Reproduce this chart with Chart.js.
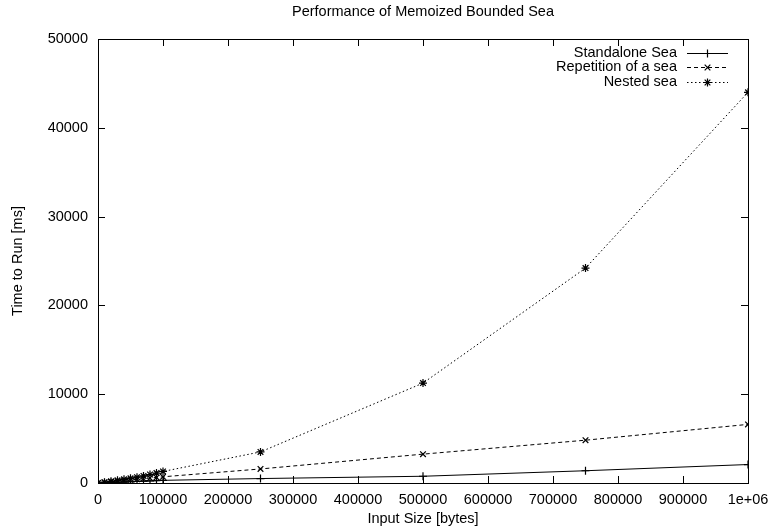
<!DOCTYPE html>
<html>
<head>
<meta charset="utf-8">
<script src="https://cdn.jsdelivr.net/npm/chart.js@4.4.0/dist/chart.umd.min.js"></script>
<style>
html,body{margin:0;padding:0;background:#fff;}
#wrap{width:771px;height:529px;}
</style>
</head>
<body>
<div id="wrap"><canvas id="c" width="771" height="529"></canvas></div>
<script>
// ---- data ----
const inputSizes = [0, 10000, 20000, 30000, 40000, 50000, 60000, 70000, 80000, 90000, 100000, 250000, 500000, 750000, 1000000];
const standaloneSea = [0, 25, 55, 85, 110, 140, 170, 200, 230, 265, 300, 500, 760, 1380, 2080];
const repetitionSea = [0, 60, 130, 200, 270, 340, 410, 480, 560, 630, 700, 1580, 3250, 4820, 6600];
const nestedSea = [0, 90, 190, 300, 410, 530, 660, 800, 960, 1120, 1300, 3500, 11250, 24200, 44000];
const seriesNames = ['Standalone Sea', 'Repetition of a sea', 'Nested sea'];
const xTicks = [0, 100000, 200000, 300000, 400000, 500000, 600000, 700000, 800000, 900000, 1000000];
const xTickLabels = ['0', '100000', '200000', '300000', '400000', '500000', '600000', '700000', '800000', '900000', '1e+06'];
const yTicks = [0, 10000, 20000, 30000, 40000, 50000];
const yTickLabels = ['0', '10000', '20000', '30000', '40000', '50000'];
const chartTitle = 'Performance of Memoized Bounded Sea';
const xTitle = 'Input Size [bytes]';
const yTitle = 'Time to Run [ms]';

const FONT = '"Liberation Sans", Arial, Helvetica, sans-serif';
const FS = 14.5;

function toPoints(vals) { return inputSizes.map((x, i) => ({ x: x, y: vals[i] })); }

const styles = [
  { pointStyle: 'cross', borderDash: [] },
  { pointStyle: 'crossRot', borderDash: [4, 3] },
  { pointStyle: 'star', borderDash: [1.5, 2.5] }
];
const seriesValues = [standaloneSea, repetitionSea, nestedSea];

const datasets = seriesValues.map((vals, i) => ({
  label: seriesNames[i],
  data: toPoints(vals),
  borderColor: '#000',
  backgroundColor: '#000',
  borderWidth: 1,
  borderDash: styles[i].borderDash,
  pointStyle: styles[i].pointStyle,
  pointRadius: 4,
  pointBorderWidth: 1.2,
  pointBorderColor: '#000',
  pointHoverRadius: 4,
  fill: false,
  tension: 0
}));

function drawMarker(ctx, style, x, y, r) {
  ctx.beginPath();
  if (style === 'cross' || style === 'star') {
    ctx.moveTo(x - r, y); ctx.lineTo(x + r, y);
    ctx.moveTo(x, y - r); ctx.lineTo(x, y + r);
  }
  if (style === 'crossRot' || style === 'star') {
    const d = r * Math.SQRT1_2;
    ctx.moveTo(x - d, y - d); ctx.lineTo(x + d, y + d);
    ctx.moveTo(x - d, y + d); ctx.lineTo(x + d, y - d);
  }
  ctx.stroke();
}

const gnuplotFrame = {
  id: 'gnuplotFrame',
  afterDatasetsDraw(chart) {
    const ctx = chart.ctx;
    const a = chart.chartArea;
    const xs = chart.scales.x, ys = chart.scales.y;
    const T = 7;
    ctx.save();
    ctx.strokeStyle = '#000';
    ctx.lineWidth = 1;
    ctx.setLineDash([]);
    ctx.beginPath();
    xTicks.forEach(v => {
      const px = Math.round(xs.getPixelForValue(v)) + 0.5;
      ctx.moveTo(px, a.bottom); ctx.lineTo(px, a.bottom - T);
      ctx.moveTo(px, a.top); ctx.lineTo(px, a.top + T);
    });
    yTicks.forEach(v => {
      const py = Math.round(ys.getPixelForValue(v)) + 0.5;
      ctx.moveTo(a.left, py); ctx.lineTo(a.left + T, py);
      ctx.moveTo(a.right, py); ctx.lineTo(a.right - T, py);
    });
    ctx.stroke();
    ctx.strokeRect(Math.round(a.left) + 0.5, Math.round(a.top) + 0.5, Math.round(a.right - a.left), Math.round(a.bottom - a.top));
    ctx.restore();
  },
  afterDraw(chart) {
    const ctx = chart.ctx;
    const a = chart.chartArea;
    ctx.save();
    ctx.font = FS + 'px ' + FONT;
    ctx.fillStyle = '#000';
    ctx.strokeStyle = '#000';
    ctx.lineWidth = 1;
    // title centred over the plot area (gnuplot style)
    ctx.textAlign = 'center';
    ctx.textBaseline = 'middle';
    ctx.fillText(chartTitle, (a.left + a.right) / 2, 12);
    // legend inside top-right
    ctx.textAlign = 'right';
    const textRight = a.right - 71;
    const lineL = a.right - 61, lineR = a.right - 20;
    chart.data.datasets.forEach((ds, i) => {
      const y = a.top + 13.5 + i * 14.5;
      ctx.fillText(ds.label, textRight, y);
      ctx.setLineDash(ds.borderDash || []);
      ctx.beginPath();
      ctx.moveTo(lineL, Math.round(y) + 0.5);
      ctx.lineTo(lineR, Math.round(y) + 0.5);
      ctx.stroke();
      ctx.setLineDash([]);
      ctx.lineWidth = 1.2;
      drawMarker(ctx, ds.pointStyle, (lineL + lineR) / 2, Math.round(y) + 0.5, 4);
      ctx.lineWidth = 1;
    });
    ctx.restore();
  }
};

new Chart(document.getElementById('c'), {
  type: 'line',
  data: { datasets: datasets },
  plugins: [gnuplotFrame],
  options: {
    responsive: false,
    animation: false,
    devicePixelRatio: 1,
    layout: { padding: { left: 0, right: 23, top: 39, bottom: 0 } },
    plugins: {
      legend: { display: false },
      tooltip: { enabled: false },
      title: { display: false }
    },
    scales: {
      x: {
        type: 'linear',
        min: 0,
        max: 1000000,
        afterBuildTicks: s => { s.ticks = xTicks.map(v => ({ value: v })); },
        afterFit: s => { s.height = 46; s.paddingLeft = 0; s.paddingRight = 0; },
        ticks: {
          color: '#000',
          font: { family: FONT, size: FS },
          padding: 8,
          maxRotation: 0,
          autoSkip: false,
          callback: v => { const i = xTicks.indexOf(v); return i >= 0 ? xTickLabels[i] : ''; }
        },
        grid: { display: false, drawTicks: false },
        border: { display: false },
        title: { display: true, text: xTitle, color: '#000', font: { family: FONT, size: FS }, padding: { top: 2, bottom: 1 } }
      },
      y: {
        type: 'linear',
        min: 0,
        max: 50000,
        afterBuildTicks: s => { s.ticks = yTicks.map(v => ({ value: v })); },
        afterFit: s => { s.width = 98; s.paddingTop = 0; s.paddingBottom = 0; },
        ticks: {
          color: '#000',
          font: { family: FONT, size: FS },
          padding: 10,
          autoSkip: false,
          callback: v => { const i = yTicks.indexOf(v); return i >= 0 ? yTickLabels[i] : ''; }
        },
        grid: { display: false, drawTicks: false },
        border: { display: false },
        title: { display: true, text: yTitle, color: '#000', font: { family: FONT, size: FS }, padding: { top: 9, bottom: 2 } }
      }
    }
  }
});
</script>
</body>
</html>
